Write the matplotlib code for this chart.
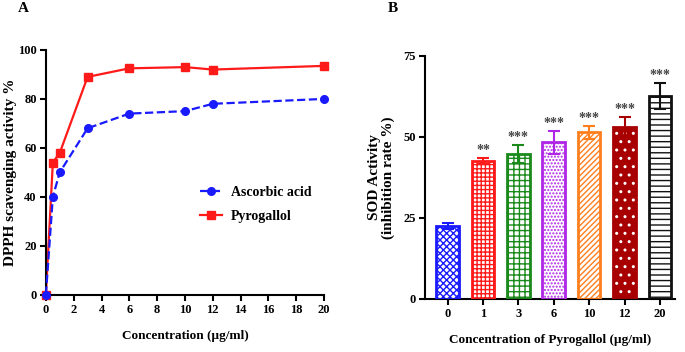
import matplotlib
matplotlib.use("Agg")
import matplotlib.pyplot as plt
import numpy as np

plt.rcParams['font.family'] = ['Liberation Serif', 'DejaVu Serif']
plt.rcParams['font.weight'] = 'bold'
plt.rcParams['hatch.linewidth'] = 1.0

# Panel A data
conc = [0, 0.5, 1, 3, 6, 10, 12, 20]
ascorbic = [0, 40, 50, 68, 74, 75, 78, 80]
pyrogallol = [0, 54, 58, 89, 92.5, 93, 92, 93.5]
a_xticks = [0, 2, 4, 6, 8, 10, 12, 14, 16, 18, 20]
a_yticks = [0, 20, 40, 60, 80, 100]

# Panel B data
b_labels = ['0', '1', '3', '6', '10', '12', '20']
sod_mean = [22.5, 42.5, 44.8, 48.3, 51.5, 53.0, 62.7]
sod_err = [1.0, 1.0, 2.7, 3.5, 2.0, 3.3, 4.0]
sig = ['', '**', '***', '***', '***', '***', '***']
b_yticks = [0, 25, 50, 75]

bar_colors = ['#1a1aff', '#ff1a1a', '#1a8a1a', '#b026e6', '#ff7f1f', '#a80000', '#111111']
bar_face = ['white', 'white', 'white', 'white', 'white', '#a80000', 'white']
bar_hcol = ['#1a1aff', '#ff1a1a', '#1a8a1a', '#b026e6', '#ff7f1f', 'white', '#111111']
bar_hatch = ['xxxxx', '++++', '+++', '.....', '//////', '..', '---']

fig = plt.figure(figsize=(6.85, 3.52), dpi=100)

# ---------- Panel A ----------
axA = fig.add_axes([0.067, 0.163, 0.406, 0.695])
axA.plot(conc, ascorbic, color='#1a1aff', linestyle='--', lw=1.6, marker='o',
         ms=5.5, label='Ascorbic acid', zorder=3)
axA.plot(conc, pyrogallol, color='#ff1a1a', linestyle='-', lw=1.6, marker='s',
         ms=5.5, label='Pyrogallol', zorder=2)
axA.set_xlim(0, 20)
axA.set_ylim(0, 100)
axA.set_xticks(a_xticks)
axA.set_yticks(a_yticks)
for s in ['top', 'right']:
    axA.spines[s].set_visible(False)
for s in ['left', 'bottom']:
    axA.spines[s].set_linewidth(1.5)
axA.tick_params(width=1.5, length=4, labelsize=9, pad=2.5)
for lab in axA.get_xticklabels() + axA.get_yticklabels():
    lab.set_fontweight('bold')
axA.set_xlabel('Concentration (µg/ml)', fontsize=9.5, fontweight='bold', labelpad=10)
axA.set_ylabel('DPPH scavenging activity %', fontsize=11, fontweight='bold', labelpad=1)
for l in axA.lines:
    l.set_clip_on(False)
leg = axA.legend(loc='center left', bbox_to_anchor=(0.51, 0.37), frameon=False,
                 prop={'weight': 'bold', 'size': 10}, handlelength=1.6,
                 handletextpad=0.6, labelspacing=0.8)
fig.text(0.026, 0.993, 'A', fontsize=11, fontweight='bold', va='top')

# ---------- Panel B ----------
axB = fig.add_axes([0.620, 0.151, 0.365, 0.690])
x = np.arange(len(b_labels))
w = 0.64
for i in range(len(x)):
    c = bar_colors[i]
    axB.bar(x[i], sod_mean[i], width=w, facecolor=bar_face[i], edgecolor=bar_hcol[i],
            hatch=bar_hatch[i], linewidth=0, zorder=2)
    axB.bar(x[i], sod_mean[i], width=w, fill=False, edgecolor=c, linewidth=2.0, zorder=3)
    axB.errorbar(x[i], sod_mean[i], yerr=sod_err[i], color=c, capsize=4,
                 elinewidth=1.5, capthick=1.5, zorder=4)
    if sig[i]:
        axB.text(x[i], sod_mean[i] + sod_err[i] + 0.2, sig[i], ha='center', va='bottom',
                 fontsize=10, color='#444444', fontweight='bold')
axB.set_xlim(-0.65, 6.42)
axB.set_ylim(0, 75)
axB.set_yticks(b_yticks)
axB.set_xticks(x)
axB.set_xticklabels(b_labels)
for s in ['top', 'right']:
    axB.spines[s].set_visible(False)
for s in ['left', 'bottom']:
    axB.spines[s].set_linewidth(1.5)
axB.tick_params(width=1.5, length=4, labelsize=9, pad=2.5)
for lab in axB.get_xticklabels() + axB.get_yticklabels():
    lab.set_fontweight('bold')
axB.set_xlabel('Concentration of Pyrogallol (µg/ml)', fontsize=9.5, fontweight='bold', labelpad=10)
axB.set_ylabel('SOD Activity\n(inhibition rate %)', fontsize=11, fontweight='bold',
               labelpad=6, linespacing=1.0)
fig.text(0.566, 0.993, 'B', fontsize=11, fontweight='bold', va='top')

fig.savefig('out.png', dpi=100)
